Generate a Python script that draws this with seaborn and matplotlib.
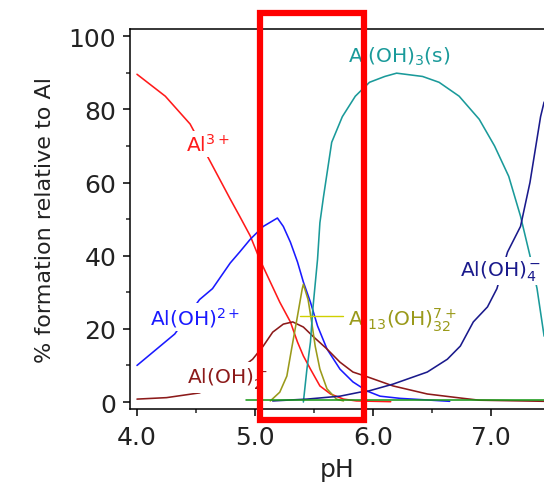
import numpy as np
import pandas as pd
import matplotlib
matplotlib.use("Agg")
import matplotlib.pyplot as plt
import seaborn as sns
from matplotlib.patches import Rectangle

# species distribution (pH, % of total Al)
al3_ph = [4.0, 4.24, 4.45, 4.62, 4.79, 4.87, 4.96, 5.04, 5.13, 5.21, 5.30, 5.36, 5.41, 5.47, 5.55, 5.64, 5.75, 5.86, 6.15]
al3_pct = [89.6, 83.6, 76.0, 65.8, 55.5, 50.8, 45.4, 39.0, 32.8, 27.3, 21.9, 16.4, 12.6, 9.0, 4.4, 2.2, 0.8, 0.3, 0.1]

aloh_ph = [4.0, 4.32, 4.53, 4.64, 4.79, 4.87, 4.96, 5.07, 5.19, 5.24, 5.30, 5.36, 5.41, 5.47, 5.53, 5.61, 5.72, 5.83, 5.95, 6.06, 6.23, 6.65]
aloh_pct = [10.0, 18.6, 28.0, 31.0, 38.0, 41.0, 44.5, 48.0, 50.3, 48.0, 43.7, 38.3, 32.8, 27.3, 20.8, 14.5, 9.0, 5.5, 3.0, 1.6, 1.0, 0.2]

aloh2_ph = [4.0, 4.25, 4.53, 4.75, 4.98, 5.07, 5.15, 5.24, 5.32, 5.41, 5.49, 5.61, 5.72, 5.83, 5.96, 6.17, 6.46, 6.74, 6.90, 7.45]
aloh2_pct = [0.8, 1.2, 2.5, 6.0, 11.7, 15.3, 19.1, 21.3, 21.9, 20.5, 18.0, 14.5, 10.9, 8.2, 6.8, 4.4, 2.2, 1.1, 0.5, 0.2]

al13_ph = [5.13, 5.21, 5.27, 5.31, 5.36, 5.40, 5.41, 5.45, 5.48, 5.51, 5.55, 5.61, 5.69, 5.75]
al13_pct = [0.3, 2.7, 7.1, 14.5, 23.5, 30.9, 32.2, 28.0, 21.9, 15.3, 9.0, 3.6, 0.8, 0.3]

aloh3s_ph = [5.41, 5.44, 5.47, 5.49, 5.53, 5.55, 5.58, 5.65, 5.74, 5.85, 5.97, 6.10, 6.20, 6.42, 6.56, 6.73, 6.90, 7.03, 7.15, 7.25, 7.33, 7.39, 7.45]
aloh3s_pct = [0.0, 9.0, 16.4, 25.4, 39.0, 49.0, 56.0, 71.0, 78.0, 83.6, 87.4, 89.0, 89.9, 89.0, 87.4, 83.6, 77.3, 70.0, 61.7, 50.8, 40.0, 31.0, 18.0]

aloh4_ph = [5.15, 5.44, 5.72, 5.89, 5.95, 6.17, 6.46, 6.63, 6.74, 6.85, 6.97, 7.05, 7.14, 7.25, 7.33, 7.42, 7.45]
aloh4_pct = [0.3, 0.8, 1.6, 2.7, 2.9, 4.9, 8.2, 11.7, 15.3, 21.9, 26.0, 31.0, 41.0, 48.0, 60.0, 78.0, 82.0]

aloh3aq_ph = [4.92, 5.5, 6.0, 6.5, 7.0, 7.45]
aloh3aq_pct = [0.5, 0.5, 0.5, 0.5, 0.5, 0.5]

species = ["Al3+", "AlOH2+", "AlOH2+_2", "Al13", "AlOH3s", "AlOH4-", "AlOH3aq"]
colors = ["#ff1a1a", "#1a1aff", "#8c1a1a", "#9a9a1a", "#1a9a9a", "#1a1a8c", "#1a9a1a"]
all_ph = [al3_ph, aloh_ph, aloh2_ph, al13_ph, aloh3s_ph, aloh4_ph, aloh3aq_ph]
all_pct = [al3_pct, aloh_pct, aloh2_pct, al13_pct, aloh3s_pct, aloh4_pct, aloh3aq_pct]

df = pd.concat([pd.DataFrame({"pH": p, "pct": v, "species": s})
                for s, p, v in zip(species, all_ph, all_pct)], ignore_index=True)

# region boxed in red on the original figure
box_ph = (5.04, 5.92)
box_pct = (-4.9, 106.4)

sns.set_style("ticks")
plt.rcParams["font.family"] = ["DejaVu Sans"]

fig = plt.figure(figsize=(5.44, 4.85), dpi=100)
ax = fig.add_axes([0.239, 0.1546, 0.761, 0.783])

sns.lineplot(data=df, x="pH", y="pct", hue="species", palette=dict(zip(species, colors)),
             estimator=None, sort=False, legend=False, linewidth=1.15, ax=ax)

ax.set_xlim(3.941, 7.449)
ax.set_ylim(-1.91, 101.9)
ax.set_xticks([4, 5, 6, 7])
ax.set_xticklabels(["4.0", "5.0", "6.0", "7.0"])
ax.set_xticks([4.5, 5.5, 6.5], minor=True)
ax.set_yticks([0, 20, 40, 60, 80, 100])
ax.set_yticks([10, 30, 50, 70, 90], minor=True)
ax.tick_params(which="major", length=5, width=1.1, labelsize=18, color="black", labelcolor="#222222")
ax.tick_params(which="minor", length=3, width=1.1)
ax.tick_params(axis="x", pad=6.5)
ax.tick_params(axis="y", pad=5)
for side in ["left", "bottom", "top"]:
    ax.spines[side].set_color("black")
    ax.spines[side].set_linewidth(1.1)
ax.spines["right"].set_visible(False)

ax.set_xlabel("pH", fontsize=18, color="#222222", labelpad=6)
ax.set_ylabel("% formation relative to Al", fontsize=16, color="#222222", labelpad=10)

box = dict(facecolor="white", edgecolor="none", pad=1.5)
ax.text(4.415, 70.5, r"Al$^{3+}$", color="#ff1a1a", fontsize=14.5, va="center", bbox=box, zorder=5)
ax.text(4.11, 23.2, r"Al(OH)$^{2+}$", color="#1a1aff", fontsize=14.5, va="center", bbox=box, zorder=5)
ax.text(4.42, 6.8, r"Al(OH)$_2^+$", color="#8c1a1a", fontsize=14.5, va="center", bbox=box, zorder=5)
ax.text(5.79, 22.7, r"Al$_{13}$(OH)$_{32}^{7+}$", color="#9a9a1a", fontsize=14.5, va="center", zorder=5)
ax.text(5.79, 94.5, r"Al(OH)$_3$(s)", color="#1a9a9a", fontsize=14.5, va="center", zorder=5)
ax.text(6.74, 35.8, r"Al(OH)$_4^-$", color="#1a1a8c", fontsize=14.5, va="center", bbox=box, zorder=5)
ax.plot([5.38, 5.75], [23.5, 23.5], color="#d0d000", linewidth=1.0, zorder=4)

ax.add_patch(Rectangle((box_ph[0], box_pct[0]), box_ph[1] - box_ph[0], box_pct[1] - box_pct[0],
                       fill=False, edgecolor="#ff0000", linewidth=4.5, clip_on=False, zorder=10))

fig.savefig("out.png", dpi=100)
